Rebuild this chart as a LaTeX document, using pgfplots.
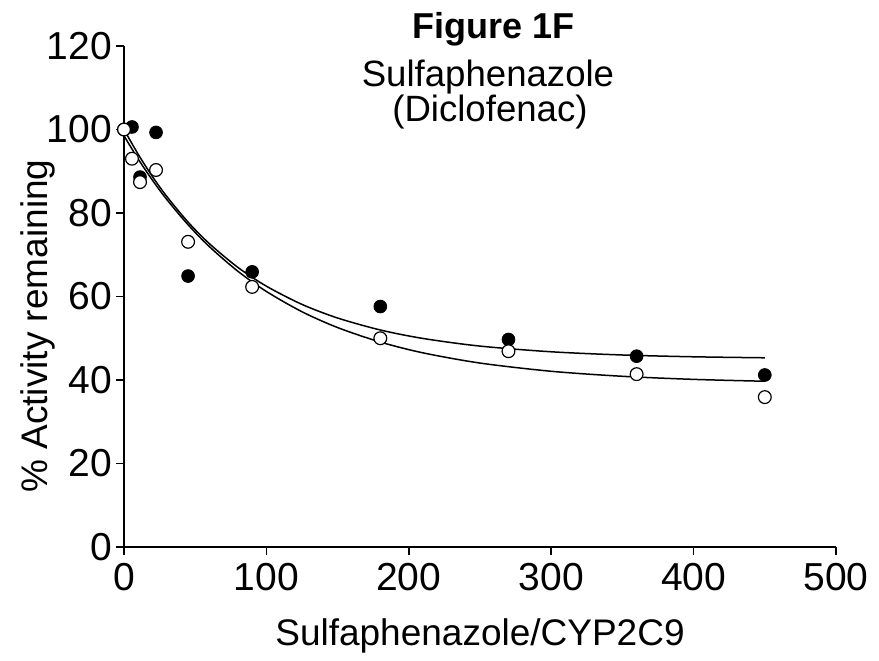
\documentclass[border=0pt]{standalone}
\usepackage{pgfplots}
\pgfplotsset{compat=1.18}
\usepackage{fontspec}
\setmainfont{Liberation Sans}
\begin{document}
\begin{tikzpicture}
\useasboundingbox (0,0) rectangle (439.5pt,330pt);
\begin{axis}[
  at={(62pt,56.5pt)}, anchor=south west,
  scale only axis, width=356pt, height=250.5pt,
  xmin=0, xmax=500, ymin=0, ymax=120,
  axis x line*=bottom, axis y line*=left,
  axis line style={-, line width=0.75pt},
  xtick={0,100,...,500}, ytick={0,20,...,120},
  tick align=outside, major tick length=4pt,
  tick style={line width=0.75pt, black},
  ticklabel style={font=\fontsize{19.5}{22}\selectfont},
  xticklabel style={yshift=-0.5pt},
  yticklabel style={xshift=1.5pt},
  /pgf/number format/assume math mode=true,
  xlabel={Sulfaphenazole/CYP2C9},
  ylabel={\% Activity remaining},
  label style={font=\fontsize{18.5}{21}\selectfont},
  xlabel style={at={(axis description cs:0.5,-0.178)}, anchor=center},
  ylabel style={at={(axis description cs:-0.121,0.441)}, anchor=center},
  clip=false,
]
% fitted curves
\addplot[black, line width=0.75pt, smooth] coordinates {
(0,100) (10,94.04) (20,88.72) (30,83.99) (45,77.82) (60,72.64) (80,66.97)
(100,62.47) (125,58.11) (150,54.85) (180,51.98) (210,49.95) (250,48.12)
(300,46.76) (350,45.99) (400,45.56) (450,45.32)};
\addplot[black, line width=0.75pt, smooth] coordinates {
(0,98.5) (10,92.91) (20,87.85) (30,83.26) (45,77.18) (60,71.93) (80,66.04)
(100,61.20) (125,56.35) (150,52.56) (180,49.09) (210,46.50) (250,44.06)
(300,42.09) (350,40.89) (400,40.15) (450,39.70)};
% filled circles
\addplot[only marks, mark=*, mark size=3.2pt, mark options={fill=black, draw=black}] coordinates {
(0,100) (5.6,100.6) (11.25,88.6) (22.5,99.3) (45,64.9) (90,65.9)
(180,57.6) (270,49.7) (360,45.7) (450,41.2)};
% open circles
\addplot[only marks, mark=*, mark size=3.2pt, mark options={fill=white, draw=black, line width=0.6pt}] coordinates {
(0,100.0) (5.6,93.0) (11.25,87.4) (22.5,90.3) (45,73.1) (90,62.3)
(180,50.0) (270,46.9) (360,41.4) (450,35.9)};
\node[anchor=base, font=\fontsize{18}{21}\selectfont\bfseries] at (axis cs:259.8,121.9) {Figure 1F};
\node[anchor=base, font=\fontsize{18.3}{21}\selectfont] at (axis cs:255.6,110.2) {Sulfaphenazole};
\node[anchor=base, font=\fontsize{18.3}{21}\selectfont] at (axis cs:257,102.0) {(Diclofenac)};
\end{axis}
\end{tikzpicture}
\end{document}
